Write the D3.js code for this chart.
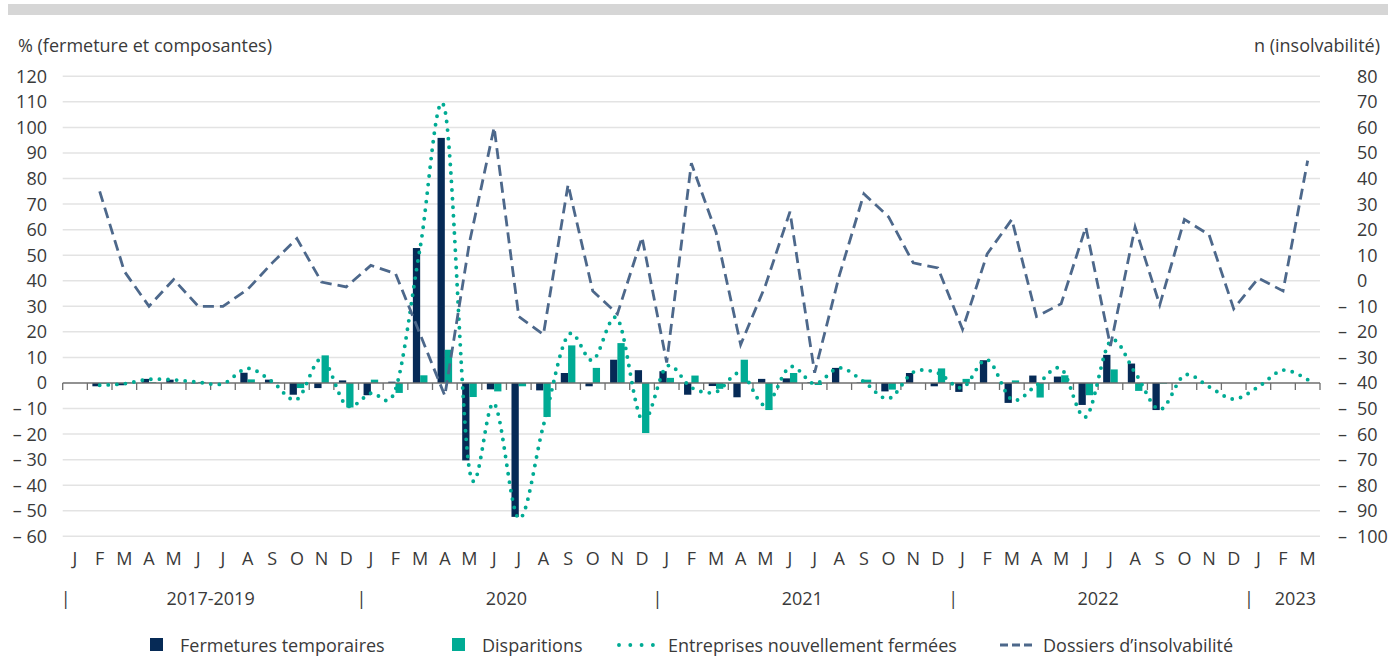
<!DOCTYPE html>
<meta charset="utf-8">
<style>
body { margin: 0; background: #fff; }
svg text { font-family: "Open Sans", sans-serif; fill: #3a3a3a; }
.grid line { stroke: #e3e3e3; stroke-width: 1.5; }
.tick-lab { font-size: 18px; }
</style>
<svg width="1398" height="660"></svg>
<script src="https://d3js.org/d3.v7.min.js"></script>
<script>
// mois affichés sous l'axe
var mois = ["J","F","M","A","M","J","J","A","S","O","N","D",
            "J","F","M","A","M","J","J","A","S","O","N","D",
            "J","F","M","A","M","J","J","A","S","O","N","D",
            "J","F","M","A","M","J","J","A","S","O","N","D",
            "J","F","M"];
var annees = ["2017-2019","2020","2021","2022","2023"];
var moisParAnnee = [12, 12, 12, 12, 3];

// Fermetures temporaires (%)
var fermTemp = [null,-1.3,-0.9,1.6,1.3,-0.2,0,4.0,1.3,-4.6,-2.0,1.0,
                -4.8,0.5,52.8,95.9,-30.3,-2.5,-52.4,-2.9,3.9,-1.3,9.1,5.0,
                4.6,-4.6,-1.2,-5.6,1.6,1.8,0.3,5.9,0.2,-3.3,3.9,-1.3,
                -3.5,8.9,-7.8,2.9,2.5,-8.6,11.0,7.6,-10.6,null,null,null,
                null,null,null];
// Disparitions (%)
var disparitions = [null,-0.3,0.2,0.3,0.2,0.4,0,1.4,0.2,-2.0,10.8,-9.6,
                1.3,-3.9,3.0,13.0,-5.5,-3.3,-1.3,-13.3,14.7,5.9,15.6,-19.6,
                2.0,2.9,-2.3,9.1,-10.6,3.9,-0.8,0,1.3,-2.6,0,5.7,
                1.6,0,1.0,-5.7,3.0,-4.8,5.3,-3.1,-0.3,null,null,null,
                null,null,null];
// Entreprises nouvellement fermées (%)
var nouvFermees = [null,-0.9,-0.3,1.4,1.2,0.3,-0.3,5.7,0.5,-6.4,9.4,-8.7,
                -4.0,-2.5,53,107,-34,-8,-53,-16.6,18.7,8.9,25.2,-14.6,
                6.5,-1.8,-3.5,3.9,-8.7,6.3,-0.3,5.9,0.5,-6.1,4.2,3.9,
                -1.8,9.1,-6.5,-0.9,5.6,-13.3,16.4,4.0,-10.4,3.0,-1.5,-6.3,
                -1.5,5.0,1.3];
// Dossiers d'insolvabilité (n, axe de droite)
var insolv = [null,35,3.7,-10,0.5,-10,-10,-3.4,7,16.5,-0.5,-2.4,
                6,2.8,-21,-45,15,60,-14,-21,37.6,-4,-13,17,
                -32,46,19,-25,-2,27,-36,2,34,25,7,5,
                -19,10.5,24,-14,-9,21,-25.5,21,-9.5,24,18,-11,
                1,-4,47];

var ticksGauche = d3.range(-60, 121, 10);
var ticksDroite = d3.range(-100, 81, 10);

var svg = d3.select("svg");
var pLeft = 62.7, pRight = 1320, pTop = 76.3, pBottom = 536.3;

var idx = d3.range(mois.length);
var x = d3.scaleBand().domain(idx).range([pLeft, pRight]).padding(0);
var x1 = d3.scaleBand().domain(["ft","di"]).range([0, x.bandwidth()]).paddingInner(0).paddingOuter(0.69);
var y = d3.scaleLinear().domain([-60, 120]).range([pBottom, pTop]);
var y2 = d3.scaleLinear().domain([-100, 80]).range([pBottom, pTop]);

var fmt = function(v) { return v < 0 ? "\u2013 " + Math.abs(v) : "" + v; };

// bande grise du haut
svg.append("rect").attr("x", 8).attr("y", 4).attr("width", 1380).attr("height", 11).attr("fill", "#d6d6d6");

// grille
svg.append("g").attr("class", "grid")
  .selectAll("line").data(ticksGauche.filter(function(d){ return d !== 0; }))
  .enter().append("line")
  .attr("x1", pLeft).attr("x2", pRight)
  .attr("y1", function(d){ return y(d); }).attr("y2", function(d){ return y(d); });

// étiquettes axe gauche
svg.append("g").selectAll("text").data(ticksGauche).enter().append("text")
  .attr("class", "tick-lab")
  .attr("x", 47).attr("y", function(d){ return y(d); })
  .attr("dy", "0.36em").attr("text-anchor", "end")
  .text(fmt);

// étiquettes axe droit
var gd = svg.append("g");
gd.selectAll("text.num").data(ticksDroite).enter().append("text")
  .attr("class", "tick-lab num")
  .attr("x", 1357).attr("y", function(d){ return y2(d); })
  .attr("dy", "0.36em").attr("text-anchor", "start")
  .text(function(d){ return Math.abs(d); });
gd.selectAll("text.neg").data(ticksDroite.filter(function(d){ return d < 0; })).enter().append("text")
  .attr("class", "tick-lab neg")
  .attr("x", 1347).attr("y", function(d){ return y2(d); })
  .attr("dy", "0.36em").attr("text-anchor", "end")
  .text("\u2013");

// titres des axes
svg.append("text").attr("x", 18).attr("y", 52).style("font-size", "18px").text("% (fermeture et composantes)");
svg.append("text").attr("x", 1380).attr("y", 52).attr("text-anchor", "end").style("font-size", "18px").text("n (insolvabilit\u00e9)");

// barres
var g = svg.append("g");
g.selectAll(".ft").data(idx.filter(function(i){ return fermTemp[i] !== null; })).enter().append("rect")
  .attr("class", "ft")
  .attr("x", function(i){ return x(i) + x1("ft"); })
  .attr("width", x1.bandwidth())
  .attr("y", function(i){ return y(Math.max(0, fermTemp[i])); })
  .attr("height", function(i){ return Math.abs(y(fermTemp[i]) - y(0)); })
  .attr("fill", "#062a56");
g.selectAll(".di").data(idx.filter(function(i){ return disparitions[i] !== null; })).enter().append("rect")
  .attr("class", "di")
  .attr("x", function(i){ return x(i) + x1("di"); })
  .attr("width", x1.bandwidth())
  .attr("y", function(i){ return y(Math.max(0, disparitions[i])); })
  .attr("height", function(i){ return Math.abs(y(disparitions[i]) - y(0)); })
  .attr("fill", "#00ab94");

// axe zéro avec graduations
var gx = svg.append("g").attr("transform", "translate(0," + y(0) + ")");
gx.append("line").attr("x1", pLeft).attr("x2", pRight).attr("stroke", "#6e6e6e").attr("stroke-width", 1.5);
gx.selectAll(".tk").data(d3.range(mois.length + 1)).enter().append("line")
  .attr("x1", function(i){ return pLeft + i * x.step(); })
  .attr("x2", function(i){ return pLeft + i * x.step(); })
  .attr("y1", 0).attr("y2", 7)
  .attr("stroke", "#6e6e6e").attr("stroke-width", 1.3);

// lignes
var cx = function(i){ return x(i) + x.bandwidth() / 2; };
var lNouv = d3.line()
  .defined(function(i){ return nouvFermees[i] !== null; })
  .x(cx).y(function(i){ return y(nouvFermees[i]); })
  .curve(d3.curveCardinal.tension(0));
svg.append("path").datum(idx).attr("d", lNouv)
  .attr("fill", "none").attr("stroke", "#00ab94").attr("stroke-width", 3.9)
  .attr("stroke-linecap", "round").attr("stroke-dasharray", "0,8.6");

var lIns = d3.line()
  .defined(function(i){ return insolv[i] !== null; })
  .x(cx).y(function(i){ return y2(insolv[i]); });
svg.append("path").datum(idx).attr("d", lIns)
  .attr("fill", "none").attr("stroke", "#4d688b").attr("stroke-width", 2.8)
  .attr("stroke-dasharray", "11,6");

// libellés des mois
svg.append("g").selectAll("text").data(idx).enter().append("text")
  .attr("x", cx).attr("y", 565).attr("text-anchor", "middle")
  .style("font-size", "18px")
  .text(function(i){ return mois[i]; });

// années et séparateurs
var debut = 0;
var ga = svg.append("g");
annees.forEach(function(a, k) {
  var x0 = pLeft + debut * x.step();
  var xe = pLeft + (debut + moisParAnnee[k]) * x.step();
  ga.append("text").attr("x", x0 + 3).attr("y", 605).attr("text-anchor", "middle")
    .style("font-size", "18px").text("|");
  if (k === annees.length - 1) {
    ga.append("text").attr("x", xe - 4).attr("y", 605).attr("text-anchor", "end")
      .style("font-size", "18px").text(a);
  } else {
    ga.append("text").attr("x", (x0 + xe) / 2).attr("y", 605).attr("text-anchor", "middle")
      .style("font-size", "18px").text(a);
  }
  debut += moisParAnnee[k];
});

// légende
var lg = svg.append("g").style("font-size", "18px");
lg.append("rect").attr("x", 150).attr("y", 638).attr("width", 13).attr("height", 13).attr("fill", "#062a56");
lg.append("text").attr("x", 180).attr("y", 652).text("Fermetures temporaires");
lg.append("rect").attr("x", 452).attr("y", 638).attr("width", 13).attr("height", 13).attr("fill", "#00ab94");
lg.append("text").attr("x", 482).attr("y", 652).text("Disparitions");
lg.append("line").attr("x1", 619).attr("x2", 655).attr("y1", 645).attr("y2", 645)
  .attr("stroke", "#00ab94").attr("stroke-width", 3.9).attr("stroke-linecap", "round").attr("stroke-dasharray", "0,11.3");
lg.append("text").attr("x", 668).attr("y", 652).text("Entreprises nouvellement ferm\u00e9es");
lg.append("line").attr("x1", 1000).attr("x2", 1032).attr("y1", 645).attr("y2", 645)
  .attr("stroke", "#4d688b").attr("stroke-width", 2.8).attr("stroke-dasharray", "8,4");
lg.append("text").attr("x", 1043).attr("y", 652).text("Dossiers d\u2019insolvabilit\u00e9");
</script>
